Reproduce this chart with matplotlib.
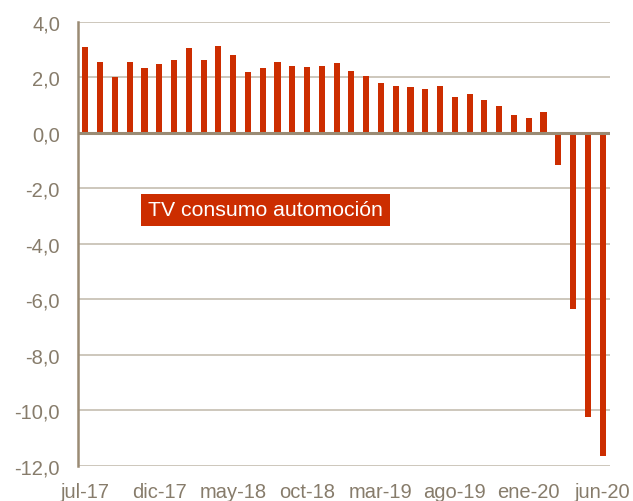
import matplotlib
matplotlib.use("Agg")
import matplotlib.pyplot as plt
import numpy as np

# --- data (tasa de variación, %) ---
months = ["jul-17", "ago-17", "sep-17", "oct-17", "nov-17", "dic-17",
          "ene-18", "feb-18", "mar-18", "abr-18", "may-18", "jun-18",
          "jul-18", "ago-18", "sep-18", "oct-18", "nov-18", "dic-18",
          "ene-19", "feb-19", "mar-19", "abr-19", "may-19", "jun-19",
          "jul-19", "ago-19", "sep-19", "oct-19", "nov-19", "dic-19",
          "ene-20", "feb-20", "mar-20", "abr-20", "may-20", "jun-20"]
tv_consumo = [3.08, 2.54, 2.00, 2.56, 2.33, 2.48,
              2.62, 3.04, 2.62, 3.11, 2.80, 2.18,
              2.33, 2.54, 2.40, 2.37, 2.39, 2.51,
              2.22, 2.04, 1.79, 1.68, 1.65, 1.57,
              1.68, 1.28, 1.38, 1.18, 0.97, 0.64,
              0.52, 0.73, -1.16, -6.36, -10.26, -11.64]
label_step = 5
y_ticks = [4, 2, 0, -2, -4, -6, -8, -10, -12]
series_name = "TV consumo automoción"

bar_color = "#cc2d00"
text_color = "#877c6b"
axis_color = "#9a8b74"
grid_color = "#c9c3b6"

plt.rcParams["font.family"] = ["Liberation Sans", "DejaVu Sans"]

fig = plt.figure(figsize=(6.33, 5.02), dpi=100)
ax = fig.add_axes([0.1232, 0.0703, 0.8405, 0.8845])

x = np.arange(len(months))
ax.bar(x, tv_consumo, width=0.41, color=bar_color, zorder=3)

ax.set_xlim(-0.5, len(months) - 0.5)
ax.set_ylim(-12, 4)

ax.set_yticks(y_ticks)
ax.set_yticklabels([f"{v:.1f}".replace(".", ",") for v in y_ticks])
ax.set_xticks(x[::label_step])
ax.set_xticklabels(months[::label_step])

ax.tick_params(axis="both", length=0, labelsize=14.5, colors=text_color)
ax.tick_params(axis="y", pad=13)
ax.tick_params(axis="x", pad=12)

ax.grid(axis="y", color=grid_color, linewidth=1.3, zorder=0)
ax.axhline(0, color=axis_color, linewidth=2.2, zorder=4)

for side in ["top", "right", "bottom"]:
    ax.spines[side].set_visible(False)
ax.spines["left"].set_color(axis_color)
ax.spines["left"].set_linewidth(1.8)

ax.text(0.3524, 0.576, series_name, transform=ax.transAxes,
        ha="center", va="center", fontsize=15.3, color="white",
        bbox=dict(boxstyle="square,pad=0.32", facecolor=bar_color,
                  edgecolor="none"), zorder=5)

fig.savefig("out.png", dpi=100)
